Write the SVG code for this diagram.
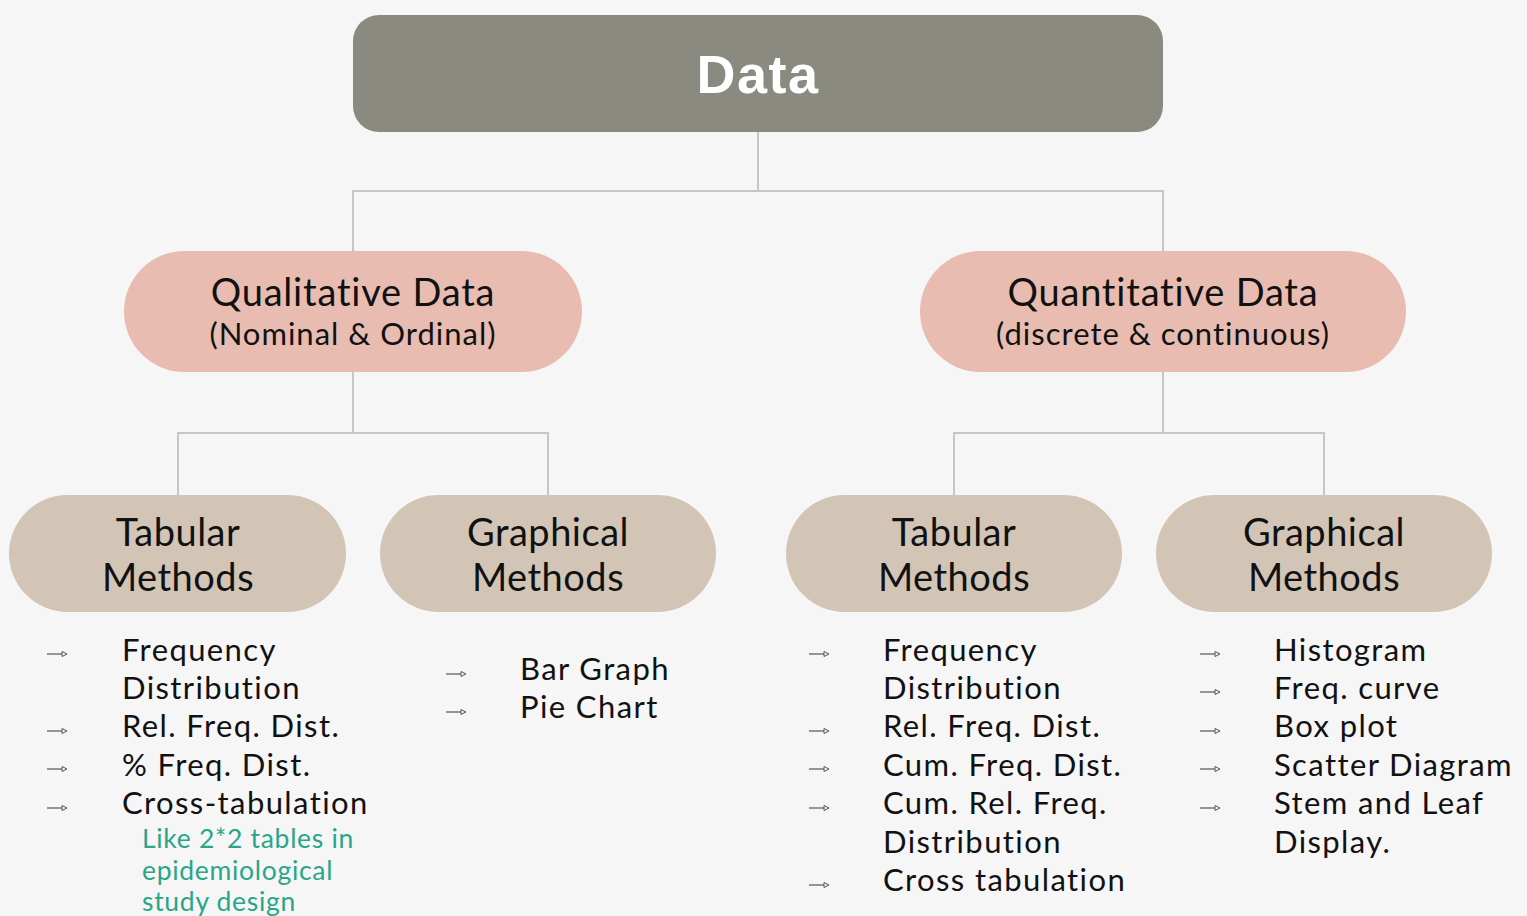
<svg xmlns="http://www.w3.org/2000/svg" width="1527" height="916" viewBox="0 0 1527 916">
<defs>
<style>
.bg{fill:#f6f6f6}
.conn{fill:none;stroke:#c6c6c6;stroke-width:2}
.top{fill:#8a8a80}
.cat{fill:#e8bcb0}
.meth{fill:#d3c5b5}
.t{font-family:Lato,"Open Sans","Noto Sans",sans-serif;fill:#111}
.title{font-family:"Liberation Sans",Arial,sans-serif;font-weight:bold;font-size:54px;letter-spacing:1.5px;fill:#fff}
.cat1{font-size:38px;letter-spacing:0.8px}
.cat2{font-size:31px;letter-spacing:1px}
.mt{font-size:38px;letter-spacing:0.5px}
.li{font-size:31px;letter-spacing:1.4px}
.note{font-family:Lato,"Open Sans","Noto Sans",sans-serif;font-size:26.5px;letter-spacing:0.7px;fill:#2aa58a}
.arr{stroke:#555;stroke-width:1.2;fill:none}
.ah{fill:#f6f6f6;stroke:#555;stroke-width:1}
</style>
<g id="bullet">
<line class="arr" x1="0" y1="0" x2="15" y2="0"/>
<polygon class="ah" points="15,-2.5 20,0 15,2.5"/>
</g>
</defs>
<rect class="bg" x="0" y="0" width="1527" height="916"/>
<g id="connectors">
<path class="conn" d="M758,132 V191 M353,251 V191 H1163 V251"/>
<path class="conn" d="M353,372 V433 M178,495 V433 H548 V495"/>
<path class="conn" d="M1163,372 V433 M954,495 V433 H1324 V495"/>
</g>
<g id="data">
<rect class="top" x="353" y="15" width="810" height="117" rx="26"/>
<text class="title" x="758" y="93" text-anchor="middle">Data</text>
</g>
<g id="qualitative">
<rect class="cat" x="124" y="251" width="458" height="121" rx="60.5"/>
<text class="t cat1" x="353" y="306" text-anchor="middle">Qualitative Data</text>
<text class="t cat2" x="353" y="345" text-anchor="middle">(Nominal &amp; Ordinal)</text>
</g>
<g id="quantitative">
<rect class="cat" x="920" y="251" width="486" height="121" rx="60.5"/>
<text class="t cat1" x="1163" y="306" text-anchor="middle">Quantitative Data</text>
<text class="t cat2" x="1163" y="345" text-anchor="middle">(discrete &amp; continuous)</text>
</g>
<g id="qual-tabular">
<rect class="meth" x="9" y="495" width="337" height="117" rx="58.5"/>
<text class="t mt" x="178" y="546" text-anchor="middle">Tabular</text>
<text class="t mt" x="178" y="591" text-anchor="middle">Methods</text>
</g>
<g id="qual-graphical">
<rect class="meth" x="380" y="495" width="336" height="117" rx="58.5"/>
<text class="t mt" x="548" y="546" text-anchor="middle">Graphical</text>
<text class="t mt" x="548" y="591" text-anchor="middle">Methods</text>
</g>
<g id="quant-tabular">
<rect class="meth" x="786" y="495" width="336" height="117" rx="58.5"/>
<text class="t mt" x="954" y="546" text-anchor="middle">Tabular</text>
<text class="t mt" x="954" y="591" text-anchor="middle">Methods</text>
</g>
<g id="quant-graphical">
<rect class="meth" x="1156" y="495" width="336" height="117" rx="58.5"/>
<text class="t mt" x="1324" y="546" text-anchor="middle">Graphical</text>
<text class="t mt" x="1324" y="591" text-anchor="middle">Methods</text>
</g>
<g id="list-qual-tabular">
<use href="#bullet" x="47" y="654"/>
<use href="#bullet" x="47" y="731"/>
<use href="#bullet" x="47" y="769"/>
<use href="#bullet" x="47" y="808"/>
<text class="t li" x="122" y="661">Frequency</text>
<text class="t li" x="122" y="699">Distribution</text>
<text class="t li" x="122" y="737">Rel. Freq. Dist.</text>
<text class="t li" x="122" y="776">% Freq. Dist.</text>
<text class="t li" x="122" y="814">Cross-tabulation</text>
<text class="note" x="142" y="848">Like 2*2 tables in</text>
<text class="note" x="142" y="880">epidemiological</text>
<text class="note" x="142" y="911">study design</text>
</g>
<g id="list-qual-graphical">
<use href="#bullet" x="446" y="674"/>
<use href="#bullet" x="446" y="712"/>
<text class="t li" x="520" y="680">Bar Graph</text>
<text class="t li" x="520" y="718">Pie Chart</text>
</g>
<g id="list-quant-tabular">
<use href="#bullet" x="809" y="654"/>
<use href="#bullet" x="809" y="731"/>
<use href="#bullet" x="809" y="769"/>
<use href="#bullet" x="809" y="808"/>
<use href="#bullet" x="809" y="885"/>
<text class="t li" x="883" y="661">Frequency</text>
<text class="t li" x="883" y="699">Distribution</text>
<text class="t li" x="883" y="737">Rel. Freq. Dist.</text>
<text class="t li" x="883" y="776">Cum. Freq. Dist.</text>
<text class="t li" x="883" y="814">Cum. Rel. Freq.</text>
<text class="t li" x="883" y="853">Distribution</text>
<text class="t li" x="883" y="891">Cross tabulation</text>
</g>
<g id="list-quant-graphical">
<use href="#bullet" x="1200" y="654"/>
<use href="#bullet" x="1200" y="692"/>
<use href="#bullet" x="1200" y="731"/>
<use href="#bullet" x="1200" y="769"/>
<use href="#bullet" x="1200" y="808"/>
<text class="t li" x="1274" y="661">Histogram</text>
<text class="t li" x="1274" y="699">Freq. curve</text>
<text class="t li" x="1274" y="737">Box plot</text>
<text class="t li" x="1274" y="776">Scatter Diagram</text>
<text class="t li" x="1274" y="814">Stem and Leaf</text>
<text class="t li" x="1274" y="853">Display.</text>
</g>
</svg>
